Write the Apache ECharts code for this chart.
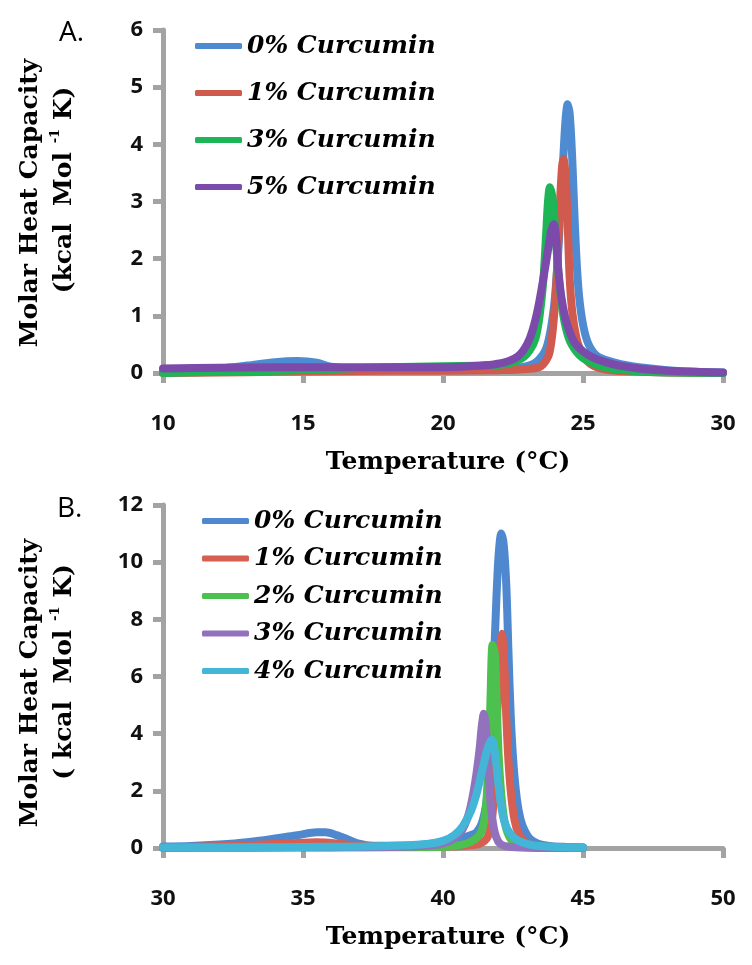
<!DOCTYPE html>
<html><head><meta charset="utf-8">
<script src="https://cdn.jsdelivr.net/npm/echarts@6/dist/echarts.min.js"></script>
<style>html,body{margin:0;padding:0;background:#fff}#c{width:752px;height:965px}</style>
</head><body><div id="c"></div>
<script>
// ---------- Panel A ----------
const namesA = ['0% Curcumin', '1% Curcumin', '3% Curcumin', '5% Curcumin'];
const colorsA = ['#4F8BD0', '#D05A4E', '#1DB556', '#7B4AAB'];
const xTicksA = [10, 15, 20, 25, 30];
const yTicksA = [0, 1, 2, 3, 4, 5, 6];

const a0 = [[10,0.05],[11,0.06],[12,0.08],[13,0.13],[14,0.19],[14.8,0.21],[15.5,0.18],[16,0.11],[17,0.07],[18,0.06],[19,0.06],[20,0.06],[21,0.06],[22,0.07],[22.8,0.1],[23.3,0.18],[23.7,0.45],[23.95,1.1],[24.1,2.0],[24.2,2.9],[24.3,3.8],[24.38,4.45],[24.45,4.7],[24.53,4.5],[24.62,3.7],[24.7,2.7],[24.79,1.8],[24.88,1.25],[25.02,0.8],[25.2,0.5],[25.5,0.3],[26.0,0.2],[26.5,0.14],[27,0.1],[28,0.05],[29,0.02],[30,0.01]];
const a1 = [[10,0.0],[12,0.01],[14,0.02],[16,0.03],[18,0.04],[20,0.04],[22,0.05],[23,0.07],[23.5,0.12],[23.8,0.35],[24.0,1.2],[24.1,2.1],[24.18,3.0],[24.25,3.6],[24.3,3.75],[24.37,3.5],[24.44,2.8],[24.52,1.7],[24.62,1.05],[24.77,0.6],[24.92,0.38],[25.1,0.23],[25.4,0.12],[25.8,0.06],[26.5,0.03],[28,0.01],[30,0.0]];
const a3 = [[10,0.0],[12,0.02],[14,0.04],[16,0.07],[18,0.1],[20,0.12],[21.5,0.13],[22.3,0.16],[22.8,0.25],[23.1,0.4],[23.3,0.6],[23.45,1.0],[23.58,1.6],[23.68,2.4],[23.75,3.0],[23.82,3.25],[23.9,3.1],[23.97,2.75],[24.05,2.2],[24.15,1.6],[24.3,1.0],[24.5,0.6],[24.75,0.38],[25.0,0.26],[25.5,0.14],[26,0.08],[27,0.03],[28,0.01],[30,0.0]];
const a5 = [[10,0.08],[12,0.09],[14,0.1],[16,0.1],[18,0.1],[20,0.1],[21,0.12],[21.8,0.15],[22.3,0.2],[22.7,0.3],[23.0,0.5],[23.2,0.75],[23.4,1.15],[23.6,1.7],[23.75,2.15],[23.87,2.5],[23.96,2.6],[24.04,2.35],[24.12,1.8],[24.22,1.35],[24.35,1.0],[24.5,0.75],[24.7,0.53],[25.0,0.38],[25.4,0.26],[25.8,0.19],[26.3,0.13],[27,0.08],[28,0.04],[29,0.02],[30,0.01]];
const dataA = [a0, a1, a3, a5];

// ---------- Panel B ----------
const namesB = ['0% Curcumin', '1% Curcumin', '2% Curcumin', '3% Curcumin', '4% Curcumin'];
const colorsB = ['#4F88CE', '#D65F52', '#4DC14F', '#9272BC', '#43B5D6'];
const xTicksB = [30, 35, 40, 45, 50];
const yTicksB = [0, 2, 4, 6, 8, 10, 12];

const b0 = [[30,0.05],[31,0.07],[32,0.12],[33,0.2],[34,0.33],[34.8,0.45],[35.5,0.55],[35.8,0.55],[36.2,0.45],[36.6,0.3],[37,0.15],[37.5,0.08],[38,0.08],[39,0.1],[39.8,0.18],[40.4,0.3],[40.9,0.42],[41.2,0.55],[41.43,1.0],[41.6,2.0],[41.72,4.0],[41.82,6.5],[41.91,8.8],[41.99,10.3],[42.08,11.0],[42.17,10.6],[42.26,9.2],[42.34,6.8],[42.42,4.6],[42.52,2.9],[42.64,1.7],[42.77,1.0],[42.92,0.6],[43.1,0.33],[43.4,0.15],[43.8,0.07],[44.3,0.04],[45,0.02]];
const b1 = [[30,0.02],[31.5,0.05],[33,0.1],[34.5,0.16],[35.5,0.2],[36.2,0.16],[37,0.08],[38,0.05],[39,0.05],[40,0.05],[40.8,0.08],[41.3,0.15],[41.6,0.4],[41.77,1.2],[41.87,2.8],[41.95,5.0],[42.03,6.9],[42.1,7.5],[42.18,6.6],[42.26,4.6],[42.34,3.0],[42.44,1.8],[42.56,0.95],[42.7,0.5],[42.9,0.22],[43.2,0.1],[43.7,0.04],[45,0.02]];
const b2 = [[30,0.01],[33,0.02],[36,0.03],[39,0.03],[40,0.04],[40.6,0.1],[41.0,0.22],[41.3,0.45],[41.44,0.8],[41.54,1.5],[41.62,3.0],[41.69,5.0],[41.77,7.1],[41.85,6.8],[41.92,5.0],[41.99,3.2],[42.07,2.0],[42.17,1.1],[42.3,0.55],[42.5,0.22],[42.8,0.08],[43.3,0.03],[45,0.01]];
const b3 = [[30,0.0],[33,0.01],[36,0.02],[38.5,0.04],[39.5,0.09],[40.0,0.16],[40.4,0.33],[40.7,0.65],[40.95,1.3],[41.15,2.3],[41.3,3.4],[41.39,4.3],[41.46,4.7],[41.54,4.2],[41.61,2.9],[41.69,1.7],[41.78,0.9],[41.9,0.38],[42.05,0.14],[42.3,0.05],[43,0.01],[45,0.0]];
const b4 = [[30,0.02],[32,0.02],[34,0.03],[36,0.04],[38,0.07],[39.3,0.13],[40.0,0.25],[40.4,0.45],[40.7,0.75],[41.0,1.3],[41.2,1.9],[41.42,2.8],[41.6,3.5],[41.74,3.8],[41.86,3.3],[41.97,2.3],[42.08,1.45],[42.2,0.9],[42.4,0.5],[42.7,0.25],[43.1,0.12],[43.6,0.06],[44.3,0.03],[45,0.02]];
const dataB = [b0, b1, b2, b3, b4];

// ---------- chart ----------
const AXIS_GRAY = '#A3A3A3';
const tickFont = { fontFamily: 'Open Sans', fontWeight: 'bold', fontSize: 22, color: '#111' };
const serif = 'DejaVu Serif';

function axisFor(ticks, gi, margin) {
  return {
    type: 'value', gridIndex: gi, min: ticks[0], max: ticks[ticks.length - 1], interval: ticks[1] - ticks[0],
    axisLine: { show: true, onZero: false, lineStyle: { color: AXIS_GRAY, width: 5 } },
    axisTick: { show: true, length: 10, lineStyle: { color: AXIS_GRAY, width: 5 } },
    axisLabel: Object.assign({ margin: margin }, tickFont),
    splitLine: { show: false }
  };
}
function seriesFor(prefix, names, colors, data, gi) {
  return names.map((n, i) => ({
    type: 'line', name: prefix + '|' + n, xAxisIndex: gi, yAxisIndex: gi,
    data: data[i], smooth: 0.3, showSymbol: false, symbol: 'none', clip: false,
    lineStyle: { width: 8, color: colors[i], cap: 'round', join: 'round' },
    itemStyle: { color: colors[i] }
  }));
}
function legendFor(prefix, names, left, top, gap) {
  return {
    orient: 'vertical', left: left, top: top, itemGap: gap, itemWidth: 47, itemHeight: 6,
    icon: 'roundRect', selectedMode: false,
    lineStyle: { width: 6 },
    data: names.map(n => prefix + '|' + n),
    formatter: (s) => s.split('|')[1],
    textStyle: { fontFamily: serif, fontWeight: 'bold', fontStyle: 'italic', fontSize: 25, color: '#000', lineHeight: 30 }
  };
}
function txt(x, y, text, opts) {
  return Object.assign({
    type: 'text', x: x, y: y,
    style: Object.assign({ text: text, fill: '#000', align: 'center', verticalAlign: 'middle', textAlign: 'center', textVerticalAlign: 'middle' }, opts.style || {})
  }, opts.el || {});
}
const titleStyle = { fontFamily: serif, fontWeight: 'bold', fontSize: 25 };
const richUnits = {
  a: { fontFamily: serif, fontWeight: 'bold', fontSize: 25, lineHeight: 30 },
  s: { fontFamily: serif, fontWeight: 'bold', fontSize: 13, lineHeight: 30, verticalAlign: 'top' }
};

const chart = echarts.init(document.getElementById('c'), null, { renderer: 'canvas' });
chart.setOption({
  animation: false,
  backgroundColor: '#fff',
  grid: [
    { left: 163, top: 30, width: 560, height: 343 },
    { left: 163, top: 505, width: 560, height: 343 }
  ],
  xAxis: [axisFor(xTicksA, 0, 40), axisFor(xTicksB, 1, 40)],
  yAxis: [axisFor(yTicksA, 0, 20), axisFor(yTicksB, 1, 20)],
  legend: [
    legendFor('A', namesA, 190, 26, 17),
    legendFor('B', namesB, 197, 501, 7.5)
  ],
  series: [].concat(seriesFor('A', namesA, colorsA, dataA, 0), seriesFor('B', namesB, colorsB, dataB, 1)),
  graphic: [
    txt(59, 33, 'A.', { style: { fontFamily: 'Open Sans', fontSize: 28, align: 'left', textAlign: 'left' } }),
    txt(57, 509, 'B.', { style: { fontFamily: 'Open Sans', fontSize: 28, align: 'left', textAlign: 'left' } }),
    txt(30, 203, 'Molar Heat Capacity', { style: titleStyle, el: { rotation: Math.PI / 2 } }),
    txt(64, 190, '{a|(kcal  Mol }{s|-1}{a| K)}', { style: { rich: richUnits }, el: { rotation: Math.PI / 2 } }),
    txt(30, 683, 'Molar Heat Capacity', { style: titleStyle, el: { rotation: Math.PI / 2 } }),
    txt(64, 672, '{a|( kcal  Mol }{s|-1}{a| K)}', { style: { rich: richUnits }, el: { rotation: Math.PI / 2 } }),
    txt(448, 462, 'Temperature (°C)', { style: titleStyle }),
    txt(448, 937, 'Temperature (°C)', { style: titleStyle })
  ]
});
</script>
</body></html>
